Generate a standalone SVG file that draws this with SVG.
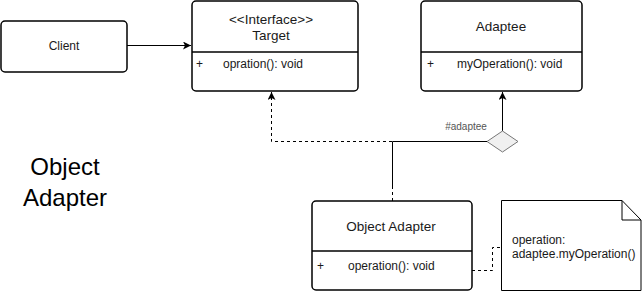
<svg xmlns="http://www.w3.org/2000/svg" width="642" height="292" viewBox="0 0 642 292">
  <style>
    .box { fill: #fff; stroke: #000; stroke-width: 1.5; }
    .div { stroke: #000; stroke-width: 1.5; }
    .t { font-family: "Liberation Sans", Arial, sans-serif; font-size: 12px; fill: #1a1a1a; }
    .h { font-size: 13.5px; }
    .c { text-anchor: middle; }
    .edge { fill: none; stroke: #000; stroke-width: 1; }
    .dash { stroke-dasharray: 3 3; }
  </style>
  <defs>
    <marker id="arrow" viewBox="0 0 10 10" refX="10" refY="5" markerWidth="8" markerHeight="8" markerUnits="userSpaceOnUse" orient="auto">
      <path d="M0,0 L10,5 L0,10 L2.5,5 Z" fill="#000"/>
    </marker>
  </defs>
  <rect width="642" height="292" fill="#fff"/>

  <g id="connectors">
    <!-- client to target -->
    <path class="edge" d="M127,45.5 H191" marker-end="url(#arrow)"/>
    <!-- realization: adapter to target -->
    <path class="edge dash" d="M392.5,201 V141.5 H271.5 V92" marker-end="url(#arrow)"/>
    <!-- aggregation: adapter to adaptee -->
    <path class="edge" d="M392.5,189 V141.5 H487"/>
    <path class="edge" d="M502.5,131 V92" marker-end="url(#arrow)"/>
    <polygon points="487,141.5 502.5,131 518,141.5 502.5,152" fill="#f0f0f0" stroke="#777" stroke-width="1"/>
    <text class="t" x="466" y="130" text-anchor="middle" style="font-size:10px; fill:#555">#adaptee</text>
    <!-- note link -->
    <path class="edge dash" d="M472,270.5 H492.5 V247.5 H501"/>
  </g>

  <g id="client">
    <rect class="box" x="1" y="21" width="126" height="51" rx="4"/>
    <text class="t c" x="64" y="50">Client</text>
  </g>

  <g id="target">
    <rect class="box" x="192" y="1" width="166" height="90" rx="4"/>
    <line class="div" x1="192" y1="52" x2="358" y2="52"/>
    <text class="t h c" x="271" y="24">&lt;&lt;Interface&gt;&gt;</text>
    <text class="t h c" x="271" y="40">Target</text>
    <text class="t" x="196" y="68">+</text>
    <text class="t" x="223" y="68">opration(): void</text>
  </g>

  <g id="adaptee">
    <rect class="box" x="421" y="1" width="161" height="90" rx="4"/>
    <line class="div" x1="421" y1="52" x2="582" y2="52"/>
    <text class="t h c" x="501" y="31">Adaptee</text>
    <text class="t" x="427" y="68">+</text>
    <text class="t" x="457" y="68">myOperation(): void</text>
  </g>

  <g id="object-adapter">
    <rect class="box" x="312" y="201" width="160" height="89" rx="4"/>
    <line class="div" x1="312" y1="251" x2="472" y2="251"/>
    <text class="t h c" x="391" y="231">Object Adapter</text>
    <text class="t" x="317" y="270">+</text>
    <text class="t" x="348" y="270">operation(): void</text>
  </g>

  <g id="note">
    <path d="M501.5,200.5 H622 L641,220 V290.5 H501.5 Z" fill="#fff" stroke="#000" stroke-width="1"/>
    <path d="M622,200.5 V220 H641" fill="none" stroke="#000" stroke-width="1"/>
    <text class="t" x="512" y="244">operation:</text>
    <text class="t" x="512" y="258">adaptee.myOperation()</text>
  </g>

  <g id="title">
    <text class="t c" x="65" y="175" style="font-size:24px; fill:#000">Object</text>
    <text class="t c" x="65" y="206" style="font-size:24px; fill:#000">Adapter</text>
  </g>
</svg>
